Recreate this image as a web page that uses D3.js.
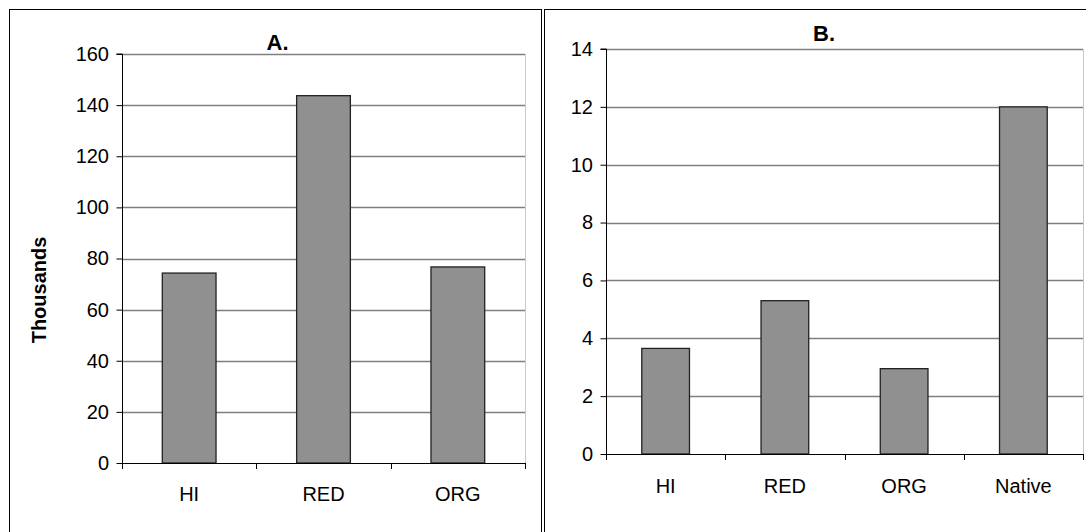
<!DOCTYPE html>
<html>
<head>
<meta charset="utf-8">
<script src="https://cdn.jsdelivr.net/npm/d3@7"></script>
<style>
  html, body { margin: 0; padding: 0; background: #fff; }
  svg { display: block; }
  text { font-family: "Liberation Sans", Arial, sans-serif; fill: #000; }
</style>
</head>
<body>
<svg id="chart" width="1086" height="532"></svg>
<script>
// ---- data ----
const categoriesA = ["HI", "RED", "ORG"];
const valuesA = [74.3, 143.7, 76.7];
const ticksA = [0, 20, 40, 60, 80, 100, 120, 140, 160];
const titleA = "A.";
const yLabelA = "Thousands";

const categoriesB = ["HI", "RED", "ORG", "Native"];
const valuesB = [3.65, 5.3, 2.95, 12.0];
const ticksB = [0, 2, 4, 6, 8, 10, 12, 14];
const titleB = "B.";

const svg = d3.select("#chart");

// panel borders
svg.append("rect").attr("x", 9.5).attr("y", 9.5).attr("width", 532).attr("height", 540)
  .attr("fill", "none").attr("stroke", "#000").attr("stroke-width", 1);
svg.append("rect").attr("x", 544.5).attr("y", 9.5).attr("width", 560).attr("height", 540)
  .attr("fill", "none").attr("stroke", "#000").attr("stroke-width", 1);

function drawPanel(cfg) {
  const g = svg.append("g");
  const x = d3.scaleBand().domain(cfg.cats).range([cfg.x0, cfg.x1])
    .paddingInner(0.6).paddingOuter(0.3);
  const y = d3.scaleLinear().domain([0, d3.max(cfg.ticks)]).range([cfg.y0, cfg.y1]);

  // plot area right border (light gray)
  g.append("line").attr("x1", cfg.x1 + 0.5).attr("x2", cfg.x1 + 0.5)
    .attr("y1", y(d3.max(cfg.ticks))).attr("y2", y(0))
    .attr("stroke", "#c8c8c8").attr("stroke-width", 1);

  // gridlines
  g.selectAll(".grid").data(cfg.ticks.filter(t => t > 0)).join("line")
    .attr("x1", cfg.x0).attr("x2", cfg.x1)
    .attr("y1", d => Math.round(y(d)) + 0.5).attr("y2", d => Math.round(y(d)) + 0.5)
    .attr("stroke", "#7f7f7f").attr("stroke-width", 1.4);

  // bars
  g.selectAll(".bar").data(cfg.vals).join("rect")
    .attr("x", (d, i) => x(cfg.cats[i]))
    .attr("y", d => y(d))
    .attr("width", x.bandwidth())
    .attr("height", d => y(0) - y(d))
    .attr("fill", "#909090").attr("stroke", "#222").attr("stroke-width", 1.3);

  // y axis
  const yAxis = d3.axisLeft(y).tickValues(cfg.ticks).tickSize(6).tickPadding(8);
  const ya = g.append("g").attr("transform", `translate(${cfg.x0 + 0.5},0)`).call(yAxis);
  ya.select(".domain").attr("stroke", "#000").attr("d", `M-6,${y(d3.max(cfg.ticks))}H0V${y(0)}`);
  ya.selectAll(".tick line").attr("stroke", "#000");
  ya.selectAll(".tick text").attr("font-size", 20).attr("font-family", "Liberation Sans, Arial, sans-serif")
    .attr("fill", "#000").attr("x", -13.5);

  // x axis baseline
  g.append("line").attr("x1", cfg.x0).attr("x2", cfg.x1 + 1)
    .attr("y1", Math.round(y(0)) + 0.5).attr("y2", Math.round(y(0)) + 0.5)
    .attr("stroke", "#000").attr("stroke-width", 1.2);
  // category boundary ticks
  const bounds = d3.range(cfg.cats.length + 1).map(i => x.range()[0] + i * x.step());
  g.selectAll(".xt").data(bounds).join("line")
    .attr("x1", d => Math.round(d) + 0.5).attr("x2", d => Math.round(d) + 0.5)
    .attr("y1", y(0)).attr("y2", y(0) + 6)
    .attr("stroke", "#000").attr("stroke-width", 1);
  // category labels
  g.selectAll(".xl").data(cfg.cats).join("text")
    .attr("x", d => x(d) + x.bandwidth() / 2)
    .attr("y", cfg.labelY)
    .attr("text-anchor", "middle").attr("font-size", 20)
    .text(d => d);

  // title
  g.append("text").attr("x", cfg.titleX).attr("y", cfg.titleY)
    .attr("text-anchor", "middle").attr("font-size", 22).attr("font-weight", "bold")
    .text(cfg.title);
}

drawPanel({
  cats: categoriesA, vals: valuesA, ticks: ticksA, title: titleA,
  x0: 122, x1: 525, y0: 463, y1: 54, labelY: 501, titleX: 277.5, titleY: 50
});
drawPanel({
  cats: categoriesB, vals: valuesB, ticks: ticksB, title: titleB,
  x0: 606, x1: 1083, y0: 454, y1: 49, labelY: 493, titleX: 824, titleY: 41
});

// y label for A
svg.append("text")
  .attr("transform", "translate(46,290) rotate(-90)")
  .attr("text-anchor", "middle").attr("font-size", 20).attr("font-weight", "bold")
  .text(yLabelA);
</script>
</body>
</html>
